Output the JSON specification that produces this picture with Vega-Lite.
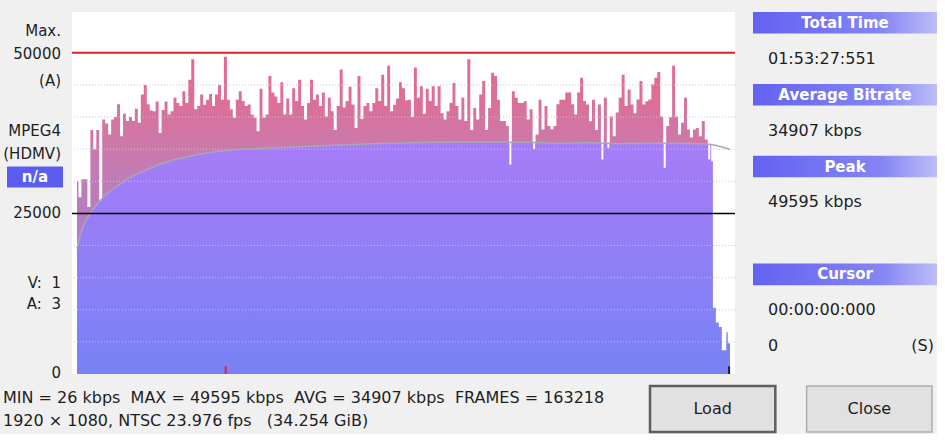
{
  "$schema": "https://vega.github.io/schema/vega-lite/v6.json",
  "background": "#f0f0f0",
  "padding": {"left": 0, "top": 12, "right": 0, "bottom": 0},
  "autosize": {"type": "pad"},
  "config": {
    "view": {"stroke": null},
    "font": "DejaVu Sans",
    "text": {"font": "DejaVu Sans", "fontSize": 16, "color": "#1e1e1e"}
  },
  "datasets": {
    "bitrate": [
      {"seg":0,"kbps":30000,"avg":19500},{"seg":1,"kbps":27500,"avg":21500},{"seg":2,"kbps":30300,"avg":23000},{"seg":3,"kbps":30300,"avg":23900},{"seg":4,"kbps":26000,"avg":24700},
      {"seg":5,"kbps":38000,"avg":25400},{"seg":6,"kbps":35000,"avg":26000},{"seg":7,"kbps":38000,"avg":26600},{"seg":8,"kbps":27000,"avg":27100},{"seg":9,"kbps":39600,"avg":27600},
      {"seg":10,"kbps":39000,"avg":28000},{"seg":11,"kbps":37300,"avg":28400},{"seg":12,"kbps":39600,"avg":28800},{"seg":13,"kbps":40000,"avg":29100},{"seg":14,"kbps":42000,"avg":29400},
      {"seg":15,"kbps":37000,"avg":29750},{"seg":16,"kbps":40500,"avg":30100},{"seg":17,"kbps":39400,"avg":30400},{"seg":18,"kbps":40000,"avg":30650},{"seg":19,"kbps":39400,"avg":30900},
      {"seg":20,"kbps":41300,"avg":31100},{"seg":21,"kbps":39100,"avg":31300},{"seg":22,"kbps":43500,"avg":31500},{"seg":23,"kbps":45000,"avg":31700},{"seg":24,"kbps":42000,"avg":31900},
      {"seg":25,"kbps":41000,"avg":32100},{"seg":26,"kbps":40900,"avg":32300},{"seg":27,"kbps":42400,"avg":32500},{"seg":28,"kbps":37500,"avg":32650},{"seg":29,"kbps":41100,"avg":32800},
      {"seg":30,"kbps":42400,"avg":32950},{"seg":31,"kbps":40400,"avg":33100},{"seg":32,"kbps":40900,"avg":33250},{"seg":33,"kbps":43000,"avg":33400},{"seg":34,"kbps":42200,"avg":33500},
      {"seg":35,"kbps":41700,"avg":33600},{"seg":36,"kbps":44000,"avg":33700},{"seg":37,"kbps":42200,"avg":33800},{"seg":38,"kbps":45800,"avg":33900},{"seg":39,"kbps":49000,"avg":34000},
      {"seg":40,"kbps":41200,"avg":34100},{"seg":41,"kbps":41700,"avg":34200},{"seg":42,"kbps":43500,"avg":34280},{"seg":43,"kbps":41900,"avg":34350},{"seg":44,"kbps":42700,"avg":34430},
      {"seg":45,"kbps":43600,"avg":34500},{"seg":46,"kbps":41700,"avg":34560},{"seg":47,"kbps":43500,"avg":34620},{"seg":48,"kbps":45000,"avg":34680},{"seg":49,"kbps":42700,"avg":34740},
      {"seg":50,"kbps":49400,"avg":34800},{"seg":51,"kbps":42700,"avg":34840},{"seg":52,"kbps":41200,"avg":34880},{"seg":53,"kbps":39900,"avg":34920},{"seg":54,"kbps":42700,"avg":34950},
      {"seg":55,"kbps":44000,"avg":34980},{"seg":56,"kbps":42500,"avg":35000},{"seg":57,"kbps":41700,"avg":35020},{"seg":58,"kbps":41950,"avg":35040},{"seg":59,"kbps":40400,"avg":35060},
      {"seg":60,"kbps":39900,"avg":35080},{"seg":61,"kbps":37800,"avg":35100},{"seg":62,"kbps":44400,"avg":35120},{"seg":63,"kbps":39900,"avg":35140},{"seg":64,"kbps":40400,"avg":35160},
      {"seg":65,"kbps":46400,"avg":35180},{"seg":66,"kbps":43800,"avg":35200},{"seg":67,"kbps":43200,"avg":35220},{"seg":68,"kbps":42200,"avg":35240},{"seg":69,"kbps":45400,"avg":35260},
      {"seg":70,"kbps":40400,"avg":35280},{"seg":71,"kbps":42900,"avg":35300},{"seg":72,"kbps":40400,"avg":35320},{"seg":73,"kbps":44500,"avg":35340},{"seg":74,"kbps":42500,"avg":35360},
      {"seg":75,"kbps":45800,"avg":35380},{"seg":76,"kbps":41700,"avg":35400},{"seg":77,"kbps":39600,"avg":35420},{"seg":78,"kbps":42200,"avg":35440},{"seg":79,"kbps":45800,"avg":35460},
      {"seg":80,"kbps":42700,"avg":35480},{"seg":81,"kbps":43500,"avg":35500},{"seg":82,"kbps":41700,"avg":35520},{"seg":83,"kbps":43800,"avg":35540},{"seg":84,"kbps":40100,"avg":35560},
      {"seg":85,"kbps":43000,"avg":35580},{"seg":86,"kbps":40900,"avg":35600},{"seg":87,"kbps":38000,"avg":35610},{"seg":88,"kbps":41700,"avg":35630},{"seg":89,"kbps":47400,"avg":35650},
      {"seg":90,"kbps":41500,"avg":35670},{"seg":91,"kbps":42500,"avg":35690},{"seg":92,"kbps":44700,"avg":35710},{"seg":93,"kbps":41950,"avg":35730},{"seg":94,"kbps":38300,"avg":35740},
      {"seg":95,"kbps":46400,"avg":35760},{"seg":96,"kbps":39700,"avg":35780},{"seg":97,"kbps":41700,"avg":35800},{"seg":98,"kbps":42200,"avg":35810},{"seg":99,"kbps":40900,"avg":35830},
      {"seg":100,"kbps":42200,"avg":35850},{"seg":101,"kbps":44500,"avg":35860},{"seg":102,"kbps":42500,"avg":35870},{"seg":103,"kbps":46600,"avg":35880},{"seg":104,"kbps":41700,"avg":35890},
      {"seg":105,"kbps":48000,"avg":35900},{"seg":106,"kbps":40900,"avg":35910},{"seg":107,"kbps":41900,"avg":35920},{"seg":108,"kbps":42900,"avg":35930},{"seg":109,"kbps":45400,"avg":35940},
      {"seg":110,"kbps":44500,"avg":35950},{"seg":111,"kbps":42600,"avg":35960},{"seg":112,"kbps":42700,"avg":35980},{"seg":113,"kbps":40000,"avg":35980},{"seg":114,"kbps":47700,"avg":36000},
      {"seg":115,"kbps":42990,"avg":36010},{"seg":116,"kbps":44800,"avg":36020},{"seg":117,"kbps":40500,"avg":36030},{"seg":118,"kbps":44400,"avg":36040},{"seg":119,"kbps":42500,"avg":36050},
      {"seg":120,"kbps":44800,"avg":36060},{"seg":121,"kbps":41700,"avg":36060},{"seg":122,"kbps":44800,"avg":36070},{"seg":123,"kbps":40600,"avg":36080},{"seg":124,"kbps":39600,"avg":36080},
      {"seg":125,"kbps":40900,"avg":36080},{"seg":126,"kbps":42200,"avg":36090},{"seg":127,"kbps":45300,"avg":36100},{"seg":128,"kbps":41700,"avg":36100},{"seg":129,"kbps":39600,"avg":36100},
      {"seg":130,"kbps":42990,"avg":36100},{"seg":131,"kbps":39400,"avg":36100},{"seg":132,"kbps":49000,"avg":36110},{"seg":133,"kbps":38000,"avg":36110},{"seg":134,"kbps":41400,"avg":36100},
      {"seg":135,"kbps":39600,"avg":36100},{"seg":136,"kbps":43500,"avg":36100},{"seg":137,"kbps":45600,"avg":36110},{"seg":138,"kbps":38000,"avg":36100},{"seg":139,"kbps":41400,"avg":36100},
      {"seg":140,"kbps":46900,"avg":36110},{"seg":141,"kbps":46400,"avg":36120},{"seg":142,"kbps":42700,"avg":36120},{"seg":143,"kbps":39400,"avg":36110},{"seg":144,"kbps":39400,"avg":36110},
      {"seg":145,"kbps":38600,"avg":36100},{"seg":146,"kbps":32600,"avg":36080},{"seg":147,"kbps":44000,"avg":36080},{"seg":148,"kbps":42990,"avg":36090},{"seg":149,"kbps":42200,"avg":36090},
      {"seg":150,"kbps":42200,"avg":36090},{"seg":151,"kbps":42470,"avg":36090},{"seg":152,"kbps":39600,"avg":36080},{"seg":153,"kbps":41200,"avg":36080},{"seg":154,"kbps":35000,"avg":36050},
      {"seg":155,"kbps":37300,"avg":36040},{"seg":156,"kbps":42700,"avg":36040},{"seg":157,"kbps":38060,"avg":36000},{"seg":158,"kbps":41700,"avg":35950},{"seg":159,"kbps":38600,"avg":35940},
      {"seg":160,"kbps":38100,"avg":35930},{"seg":161,"kbps":38600,"avg":35920},{"seg":162,"kbps":42000,"avg":35920},{"seg":163,"kbps":42700,"avg":35920},{"seg":164,"kbps":42700,"avg":35930},
      {"seg":165,"kbps":43800,"avg":35930},{"seg":166,"kbps":43800,"avg":35940},{"seg":167,"kbps":42000,"avg":35960},{"seg":168,"kbps":40400,"avg":35970},{"seg":169,"kbps":43800,"avg":35980},
      {"seg":170,"kbps":46100,"avg":35990},{"seg":171,"kbps":42500,"avg":36000},{"seg":172,"kbps":41950,"avg":36000},{"seg":173,"kbps":39360,"avg":35990},{"seg":174,"kbps":42700,"avg":35990},
      {"seg":175,"kbps":38000,"avg":35970},{"seg":176,"kbps":41950,"avg":35960},{"seg":177,"kbps":33400,"avg":35940},{"seg":178,"kbps":42990,"avg":35930},{"seg":179,"kbps":35200,"avg":35900},
      {"seg":180,"kbps":40100,"avg":35890},{"seg":181,"kbps":37000,"avg":35870},{"seg":182,"kbps":40700,"avg":35860},{"seg":183,"kbps":42990,"avg":35860},{"seg":184,"kbps":46600,"avg":35870},
      {"seg":185,"kbps":41700,"avg":35870},{"seg":186,"kbps":44300,"avg":35880},{"seg":187,"kbps":41950,"avg":35880},{"seg":188,"kbps":40600,"avg":35880},{"seg":189,"kbps":42730,"avg":35880},
      {"seg":190,"kbps":45600,"avg":35890},{"seg":191,"kbps":41950,"avg":35890},{"seg":192,"kbps":42470,"avg":35900},{"seg":193,"kbps":42730,"avg":35900},{"seg":194,"kbps":45070,"avg":35910},
      {"seg":195,"kbps":46100,"avg":35920},{"seg":196,"kbps":47000,"avg":35930},{"seg":197,"kbps":40100,"avg":35930},{"seg":198,"kbps":32100,"avg":35900},{"seg":199,"kbps":38600,"avg":35890},
      {"seg":200,"kbps":39980,"avg":35890},{"seg":201,"kbps":48000,"avg":35900},{"seg":202,"kbps":40100,"avg":35900},{"seg":203,"kbps":37300,"avg":35890},{"seg":204,"kbps":39100,"avg":35880},
      {"seg":205,"kbps":42990,"avg":35880},{"seg":206,"kbps":38060,"avg":35870},{"seg":207,"kbps":36800,"avg":35860},{"seg":208,"kbps":38060,"avg":35850},{"seg":209,"kbps":38300,"avg":35840},
      {"seg":210,"kbps":37000,"avg":35830},{"seg":211,"kbps":39400,"avg":35820},{"seg":212,"kbps":36500,"avg":35800},{"seg":213,"kbps":33400,"avg":35750},{"seg":214,"kbps":33100,"avg":35700},
      {"seg":215,"kbps":10300,"avg":35600},{"seg":216,"kbps":8000,"avg":35480},{"seg":217,"kbps":7300,"avg":35360},{"seg":218,"kbps":3700,"avg":35230},{"seg":219,"kbps":6500,"avg":35100},
      {"seg":220,"kbps":4800,"avg":34950}
    ],
    "refs": [{"level": "max", "kbps": 50000}, {"level": "half", "kbps": 25000}],
    "gridlines": [{"kbps": 5000}, {"kbps": 10000}, {"kbps": 15000}, {"kbps": 20000}, {"kbps": 30000}, {"kbps": 35000}, {"kbps": 40000}, {"kbps": 45000}],
    "markers": [{"kind": "cursor", "seg": 50.1}, {"kind": "end", "seg": 219.7}],
    "leftlabels": [
      {"label": "Max.", "kbps": 53390},
      {"label": "50000", "kbps": 49800},
      {"label": "(A)", "kbps": 45610},
      {"label": "MPEG4", "kbps": 37830},
      {"label": "(HDMV)", "kbps": 34250},
      {"label": "n/a", "kbps": 30670},
      {"label": "25000", "kbps": 25000},
      {"label": "V:\u00a0\u00a01", "kbps": 14090},
      {"label": "A:\u00a0\u00a03", "kbps": 10820},
      {"label": "0", "kbps": 200}
    ],
    "panel": [
      {"row": 0, "text": "Total Time", "kind": "header"},
      {"row": 1, "text": "01:53:27:551", "kind": "value"},
      {"row": 2, "text": "Average Bitrate", "kind": "header"},
      {"row": 3, "text": "34907 kbps", "kind": "value"},
      {"row": 4, "text": "Peak", "kind": "header"},
      {"row": 5, "text": "49595 kbps", "kind": "value"},
      {"row": 7, "text": "Cursor", "kind": "header"},
      {"row": 8, "text": "00:00:00:000", "kind": "value"},
      {"row": 9, "text": "0", "kind": "value"},
      {"row": 9, "text": "(S)", "kind": "unit"}
    ],
    "footer": [
      {"line": 0, "text": "MIN = 26 kbps \u00a0MAX = 49595 kbps \u00a0AVG = 34907 kbps \u00a0FRAMES = 163218"},
      {"line": 1, "text": "1920 × 1080, NTSC 23.976 fps \u00a0\u00a0(34.254 GiB)"}
    ],
    "buttons": [{"label": "Load"}, {"label": "Close"}]
  },
  "spacing": 3,
  "vconcat": [
    {
      "spacing": 17,
      "hconcat": [
        {
          "bounds": "flush",
          "spacing": 9,
          "hconcat": [
            {
              "width": 63,
              "height": 362,
              "data": {"name": "leftlabels"},
              "encoding": {"y": {"field": "kbps", "type": "quantitative", "scale": {"domain": [0, 56350], "nice": false}, "axis": null}},
              "layer": [
                {"transform": [{"filter": "datum.label !== 'n/a'"}], "mark": {"type": "text", "align": "right", "dx": -2, "fontSize": 15}, "encoding": {"x": {"value": "width"}, "text": {"field": "label"}}},
                {"transform": [{"filter": "datum.label === 'n/a'"}], "mark": {"type": "tick", "thickness": 21, "size": 56, "color": "#5c5cf2", "opacity": 1, "xOffset": 3.5}},
                {"transform": [{"filter": "datum.label === 'n/a'"}], "mark": {"type": "text", "fontSize": 15, "fontWeight": "bold", "color": "white", "dx": 3.5}, "encoding": {"text": {"field": "label"}}}
              ]
            },
            {
              "width": 663,
              "height": 362,
              "view": {"fill": "white", "stroke": null},
              "data": {"name": "bitrate"},
              "layer": [
                {
                  "mark": {"type": "area", "interpolate": "step", "color": {"gradient": "linear", "x1": 0, "y1": 0, "x2": 0, "y2": 1, "stops": [{"offset": 0, "color": "#ec6587"}, {"offset": 0.28, "color": "#cc79aa"}, {"offset": 0.5, "color": "#b57dc2"}, {"offset": 1, "color": "#9a80d8"}]}},
                  "encoding": {
                    "x": {"field": "seg", "type": "quantitative", "scale": {"domain": [0, 220], "nice": false, "zero": false}, "axis": null},
                    "y": {"field": "kbps", "type": "quantitative", "scale": {"domain": [0, 56350], "nice": false}, "axis": null}
                  }
                },
                {
                  "mark": {"type": "area", "color": {"gradient": "linear", "x1": 0, "y1": 0, "x2": 0, "y2": 1, "stops": [{"offset": 0, "color": "#a77cf8"}, {"offset": 1, "color": "#7882f5"}]}},
                  "encoding": {
                    "x": {"field": "seg", "type": "quantitative", "axis": null},
                    "y": {"field": "avg", "type": "quantitative", "axis": null}
                  }
                },
                {
                  "transform": [{"filter": "datum.kbps < datum.avg"}],
                  "mark": {"type": "bar", "color": "white", "clip": true},
                  "encoding": {
                    "x": {"field": "seg", "type": "quantitative", "axis": null},
                    "y": {"field": "kbps", "type": "quantitative", "axis": null},
                    "y2": {"field": "avg"},
                    "size": {"condition": {"test": "datum.kbps < 20000", "value": 4.5}, "value": 2}
                  }
                },
                {
                  "data": {"name": "gridlines"},
                  "mark": {"type": "rule", "color": "#c6c6c6", "strokeDash": [1, 2], "strokeWidth": 1},
                  "encoding": {"y": {"field": "kbps", "type": "quantitative", "axis": null}}
                },
                {
                  "mark": {"type": "line", "color": "#a8a8b2", "strokeWidth": 1.5},
                  "encoding": {
                    "x": {"field": "seg", "type": "quantitative", "axis": null},
                    "y": {"field": "avg", "type": "quantitative", "axis": null}
                  }
                },
                {
                  "data": {"name": "refs"},
                  "mark": {"type": "rule"},
                  "encoding": {
                    "y": {"field": "kbps", "type": "quantitative", "axis": null},
                    "color": {"condition": {"test": "datum.level === 'max'", "value": "#d42222"}, "value": "#000000"},
                    "strokeWidth": {"condition": {"test": "datum.level === 'max'", "value": 2}, "value": 1.5}
                  }
                },
                {
                  "data": {"name": "markers"},
                  "mark": {"type": "rule", "strokeWidth": 2},
                  "encoding": {
                    "x": {"field": "seg", "type": "quantitative", "axis": null},
                    "y": {"datum": 0},
                    "y2": {"datum": 1200},
                    "color": {"condition": {"test": "datum.kind === 'cursor'", "value": "#d8234d"}, "value": "#1c1c3c"}
                  }
                }
              ]
            }
          ]
        },
        {
          "width": 184,
          "height": 345,
          "data": {"name": "panel"},
          "encoding": {"y": {"field": "row", "type": "ordinal", "scale": {"domain": [0, 1, 2, 3, 4, 5, 6, 7, 8, 9], "paddingInner": 0.4, "paddingOuter": 0}, "axis": null}},
          "layer": [
            {"transform": [{"filter": "datum.kind === 'header'"}], "mark": {"type": "rect", "color": {"gradient": "linear", "x1": 0, "y1": 0, "x2": 1, "y2": 0, "stops": [{"offset": 0, "color": "#6262f2"}, {"offset": 0.7, "color": "#8585f4"}, {"offset": 1, "color": "#bdbdf8"}]}}},
            {"transform": [{"filter": "datum.kind === 'header'"}], "mark": {"type": "text", "color": "white", "fontWeight": "bold", "fontSize": 15}, "encoding": {"text": {"field": "text"}}},
            {"transform": [{"filter": "datum.kind === 'value'"}], "mark": {"type": "text", "align": "left", "dx": 15, "fontSize": 16}, "encoding": {"x": {"value": 0}, "text": {"field": "text"}}},
            {"transform": [{"filter": "datum.kind === 'unit'"}], "mark": {"type": "text", "align": "right", "dx": -3, "fontSize": 16}, "encoding": {"x": {"value": "width"}, "text": {"field": "text"}}}
          ]
        }
      ]
    },
    {
      "bounds": "flush",
      "spacing": 5,
      "hconcat": [
        {
          "width": 645,
          "height": 46,
          "data": {"name": "footer"},
          "mark": {"type": "text", "align": "left", "dx": 3, "fontSize": 16},
          "encoding": {"x": {"value": 0}, "y": {"field": "line", "type": "ordinal", "axis": null}, "text": {"field": "text"}}
        },
        {
          "width": 282,
          "height": 46,
          "data": {"name": "buttons"},
          "encoding": {"x": {"field": "label", "type": "nominal", "sort": null, "scale": {"paddingInner": 0.2, "paddingOuter": 0}, "axis": null}},
          "layer": [
            {"mark": {"type": "rect", "fill": "#e1e1e1"}, "encoding": {"stroke": {"condition": {"test": "datum.label === 'Load'", "value": "#5e5e5e"}, "value": "#adadad"}, "strokeWidth": {"condition": {"test": "datum.label === 'Load'", "value": 2.5}, "value": 1.5}}},
            {"mark": {"type": "text", "fontSize": 16}, "encoding": {"text": {"field": "label"}}}
          ]
        }
      ]
    }
  ]
}
